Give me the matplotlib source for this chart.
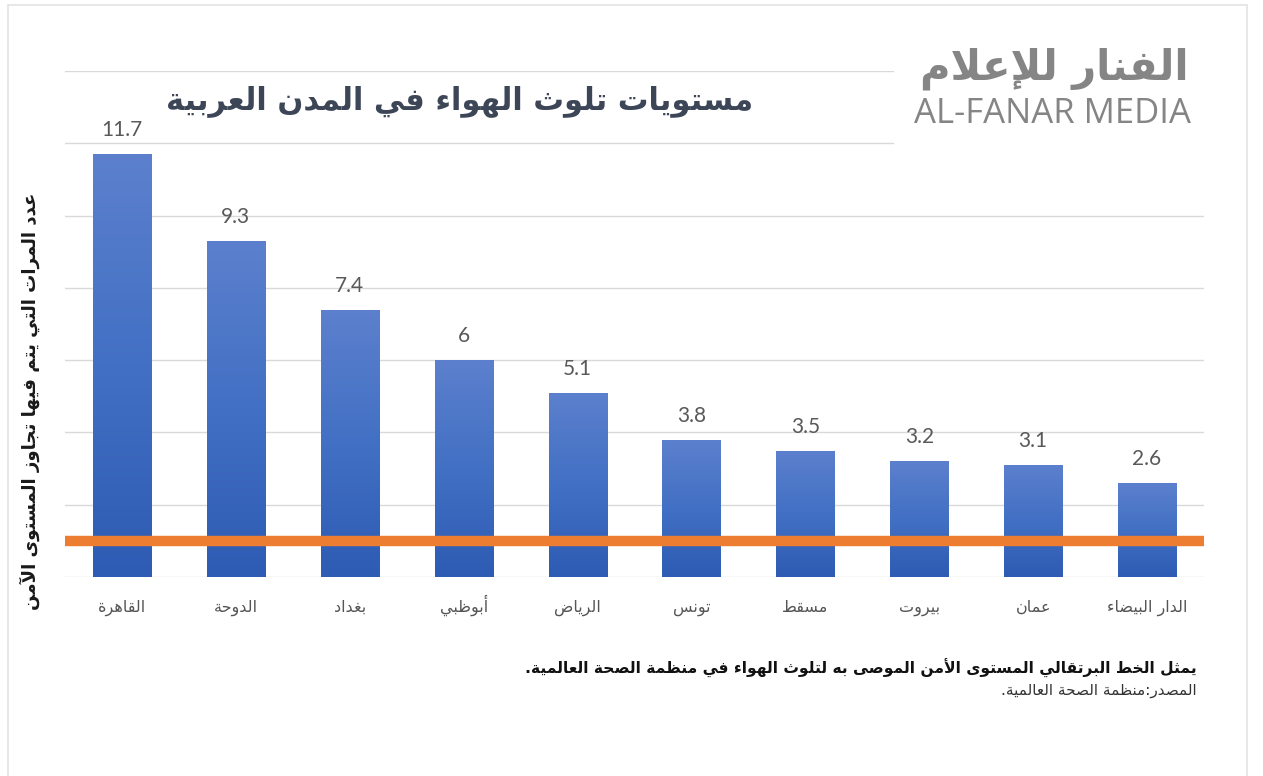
import numpy as np
import matplotlib
matplotlib.use("Agg")
import matplotlib.pyplot as plt
from matplotlib.colors import LinearSegmentedColormap
from matplotlib.patches import Rectangle

# ---------------- data ----------------
categories = ["القاهرة", "الدوحة", "بغداد", "أبوظبي", "الرياض",
              "تونس", "مسقط", "بيروت", "عمان", "الدار البيضاء"]
values = [11.7, 9.3, 7.4, 6, 5.1, 3.8, 3.5, 3.2, 3.1, 2.6]
value_labels = ["11.7", "9.3", "7.4", "6", "5.1", "3.8", "3.5", "3.2", "3.1", "2.6"]
safe_level = 1
y_ticks = [0, 2, 4, 6, 8, 10, 12, 14]

title = "مستويات تلوث الهواء في المدن العربية"
y_label = "عدد المرات التي يتم فيها تجاوز المستوى الآمن"
footnote = "يمثل الخط البرتقالي المستوى الأمن الموصى به لتلوث الهواء في منظمة الصحة العالمية."
source = "المصدر:منظمة الصحة العالمية."
logo_ar = "الفنار للإعلام"
logo_en = "AL-FANAR MEDIA"

# ------------- simple Arabic shaping (matplotlib has no complex text layout) -------------
DUAL = {'ئ': 0xFE89, 'ب': 0xFE8F, 'ت': 0xFE95, 'ث': 0xFE99, 'ج': 0xFE9D, 'ح': 0xFEA1,
        'خ': 0xFEA5, 'س': 0xFEB1, 'ش': 0xFEB5, 'ص': 0xFEB9, 'ض': 0xFEBD, 'ط': 0xFEC1,
        'ظ': 0xFEC5, 'ع': 0xFEC9, 'غ': 0xFECD, 'ف': 0xFED1, 'ق': 0xFED5, 'ك': 0xFED9,
        'ل': 0xFEDD, 'م': 0xFEE1, 'ن': 0xFEE5, 'ه': 0xFEE9, 'ي': 0xFEF1}
RIGHT = {'آ': 0xFE81, 'أ': 0xFE83, 'ؤ': 0xFE85, 'إ': 0xFE87, 'ا': 0xFE8D, 'ة': 0xFE93,
         'د': 0xFEA9, 'ذ': 0xFEAB, 'ر': 0xFEAD, 'ز': 0xFEAF, 'و': 0xFEED, 'ى': 0xFEEF}
NONJ = {'ء': 0xFE80}
LAMALEF = {'آ': 0xFEF5, 'أ': 0xFEF7, 'إ': 0xFEF9, 'ا': 0xFEFB}


def shape(s):
    toks = []
    i = 0
    while i < len(s):
        c = s[i]
        if 0x064B <= ord(c) <= 0x0652 or ord(c) == 0x0670:
            i += 1
            continue
        if c == 'ل' and i + 1 < len(s) and s[i + 1] in LAMALEF:
            toks.append(('LA', s[i + 1]))
            i += 2
            continue
        toks.append(c)
        i += 1

    def can_prev(t):
        return isinstance(t, tuple) or t in DUAL or t in RIGHT

    def can_next(t):
        return (not isinstance(t, tuple)) and t in DUAL

    out = []
    n = len(toks)
    for k, t in enumerate(toks):
        p = k > 0 and can_next(toks[k - 1]) and can_prev(t)
        nx = k < n - 1 and can_next(t) and can_prev(toks[k + 1])
        if isinstance(t, tuple):
            out.append(chr(LAMALEF[t[1]] + (1 if p else 0)))
        elif t in DUAL:
            off = {(False, False): 0, (True, False): 1, (False, True): 2, (True, True): 3}[(bool(p), bool(nx))]
            out.append(chr(DUAL[t] + off))
        elif t in RIGHT:
            out.append(chr(RIGHT[t] + (1 if p else 0)))
        elif t in NONJ:
            out.append(chr(NONJ[t]))
        else:
            out.append(t)
    return "".join(out)[::-1]


AR = ["DejaVu Sans"]
NUM = ["Lato", "DejaVu Sans"]

# ---------------- figure ----------------
W, H = 1263, 776
fig = plt.figure(figsize=(W / 100, H / 100), dpi=100)
fig.patch.set_facecolor("white")

# faint frame of the screenshot
fig.add_artist(Rectangle((8 / W, -0.05), (1247 - 8) / W, 1.05 - 5 / H,
                         transform=fig.transFigure, fill=False,
                         edgecolor="#E3E3E3", lw=1.2))

ax_l, ax_r = 65, 1204
ax_b, ax_t = 577, 71
ax = fig.add_axes([ax_l / W, 1 - ax_b / H, (ax_r - ax_l) / W, (ax_b - ax_t) / H])
ax.set_facecolor("none")

x = np.arange(len(categories))
bar_w = 0.51

# gridlines (the top two are hidden behind the logo on the right)
logo_cut = (893 - ax_l) / (ax_r - ax_l)
for yt in y_ticks:
    xm = logo_cut if yt >= 12 else 1.0
    ax.axhline(yt, xmin=0, xmax=xm, color="#D9D9D9", lw=1.0, zorder=0)

bars = ax.bar(x, values, width=bar_w, color="none", edgecolor="none", zorder=2)
cmap = LinearSegmentedColormap.from_list("g", ["#2E5BB3", "#4270C4", "#5C80CD"])
grad = np.linspace(0, 1, 256).reshape(-1, 1)
for b in bars:
    x0, w, h = b.get_x(), b.get_width(), b.get_height()
    im = ax.imshow(grad, extent=(x0, x0 + w, 0, h), origin="lower", cmap=cmap,
                   aspect="auto", zorder=2, interpolation="bilinear")
    im.set_clip_path(b)

ax.axhline(safe_level, color="#ED7D31", lw=7.5, zorder=3, solid_capstyle="butt")

for xi, v, lab in zip(x, values, value_labels):
    ax.annotate(lab, (xi, v), xytext=(0, 10), textcoords="offset points",
                ha="center", va="bottom", fontsize=15, color="#595959",
                family=NUM)

ax.set_xlim(-0.5, len(categories) - 0.5)
ax.set_ylim(0, 14)
ax.set_yticks([])
ax.set_xticks(x, [shape(c) for c in categories])
for lab in ax.get_xticklabels():
    lab.set_family(AR)
    lab.set_fontsize(11.5)
    lab.set_color("#555555")
    lab.set_verticalalignment("baseline")
ax.tick_params(axis="x", length=0, pad=25)
for sp in ax.spines.values():
    sp.set_visible(False)

# title
fig.text(460 / W, 1 - 101 / H, shape(title), ha="center", va="center",
         fontsize=22, fontweight="bold", color="#3C4657", family=AR)

# logo
fig.text(1054 / W, 1 - 69 / H, shape(logo_ar), ha="center", va="center",
         fontsize=30, fontweight="bold", color="#858585", family=AR)
fig.text(1052 / W, 1 - 114 / H, logo_en, ha="center", va="center",
         fontsize=25, color="#858585", family=["Open Sans", "DejaVu Sans"])

# y label
fig.text(30 / W, 1 - 401 / H, shape(y_label), ha="center", va="center",
         rotation=90, fontsize=13.1, fontweight="bold", color="#1A1A1A", family=AR)

# footnote and source
fig.text(1197 / W, 1 - 668 / H, shape(footnote), ha="right", va="center",
         fontsize=11.2, fontweight="bold", color="#111111", family=AR)
fig.text(1197 / W, 1 - 691 / H, shape(source), ha="right", va="center",
         fontsize=11, color="#333333", family=AR)

fig.savefig("out.png", dpi=100, facecolor="white")
